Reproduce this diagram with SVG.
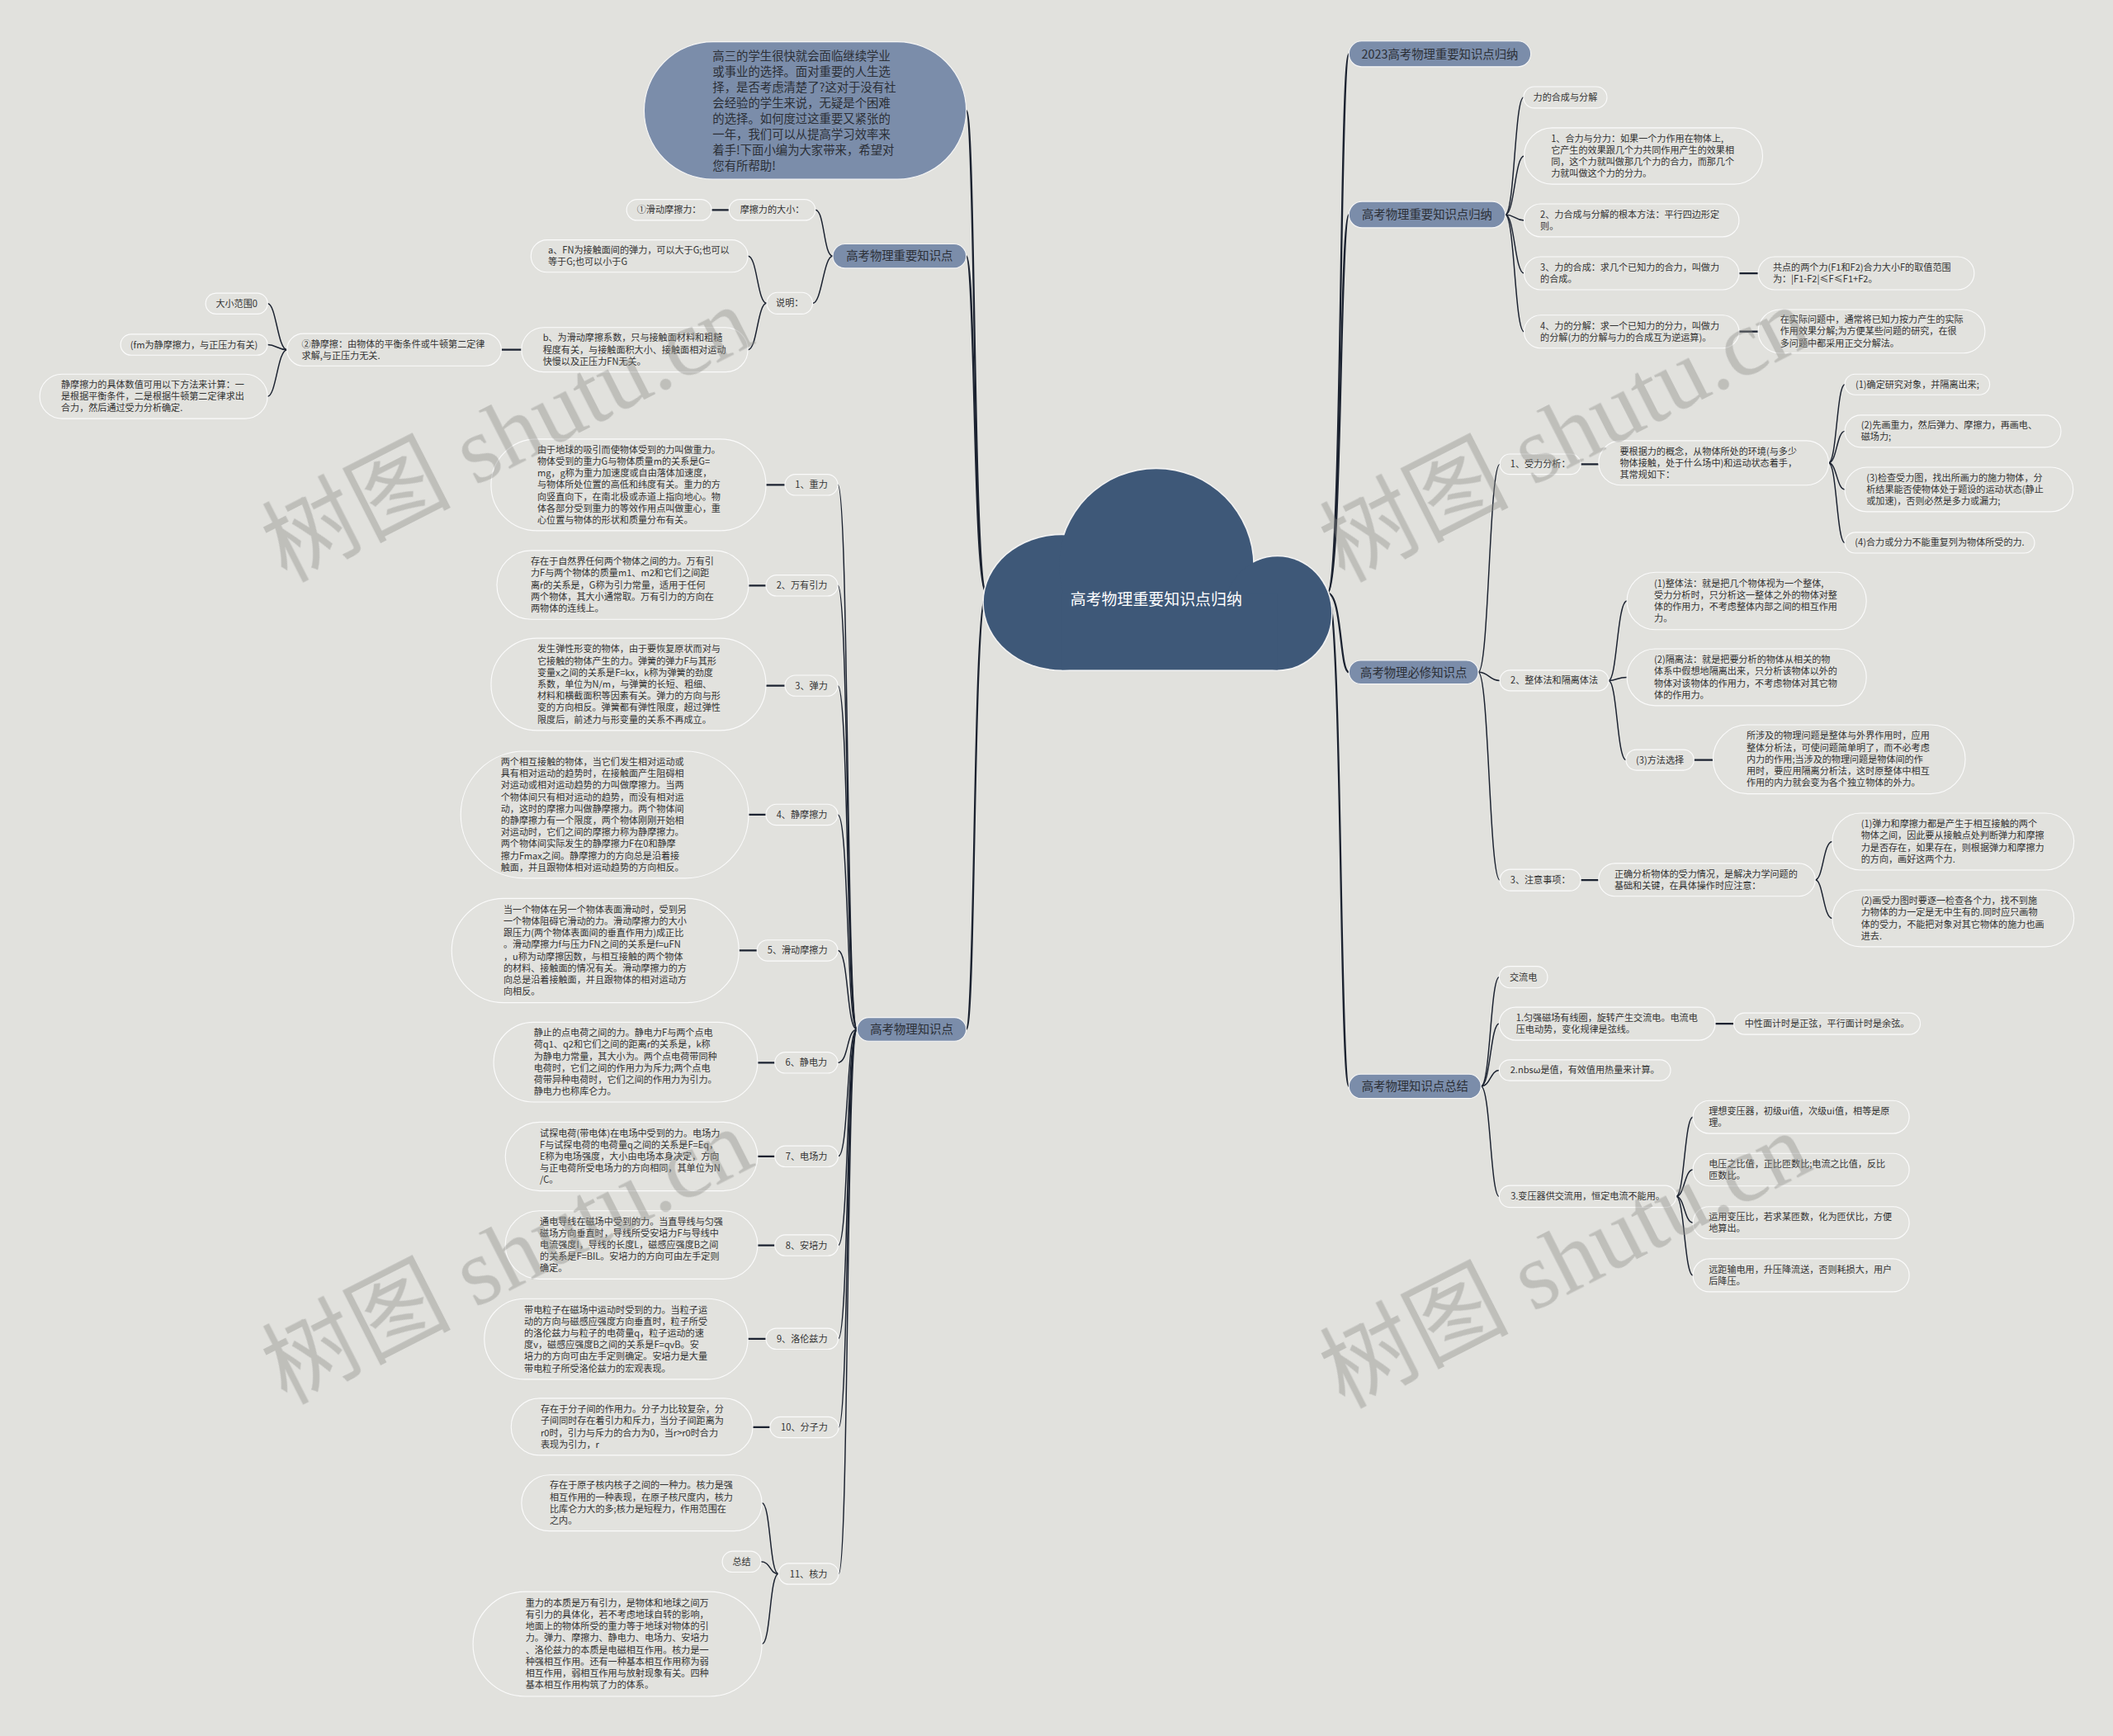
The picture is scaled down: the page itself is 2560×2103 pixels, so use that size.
<svg xmlns="http://www.w3.org/2000/svg" width="2560" height="2103" viewBox="0 0 2560 2103">
<defs>
<style>
.bg{fill:#e1e1dd}
.n{fill:#e2e2de;stroke:#fbfbfb;stroke-width:0.7}
.l1{fill:#7b8daa;stroke:#f5f5f5;stroke-width:0.7}
.c{fill:none;stroke:#1b2230;stroke-width:0.9;stroke-linecap:round}
.ct{stroke-width:1.4}
.cs{stroke-width:1.4}
.t{font-family:"Noto Sans CJK SC","Noto Sans",sans-serif;font-size:6.8px;fill:#333}
.tc{text-anchor:middle}
.t1{font-size:8.8px;fill:#2b2f36}
.tw{font-size:11.6px;fill:#ffffff}
.cl{fill:#3e5878}
.clo{fill:#3e5878;stroke:#f2f2f2;stroke-width:2}
</style>
</defs>
<rect class="bg" x="0" y="0" width="2560" height="2103"/>
<g transform="scale(1.632653)">
<g id="connectors">
<path class="c ct" d="M732 440 C722 440 724 82 717 82"/>
<path class="c ct" d="M732 440 C722 440 724 190 717 190"/>
<path class="c ct" d="M732 440 C722 440 724 763.75 717 763.75"/>
<path class="c ct" d="M985 440 C996 440 994 40 1001 40"/>
<path class="c ct" d="M985 440 C996 440 994 159.25 1001 159.25"/>
<path class="c ct" d="M985 440 C996 440 994 498.75 1001 498.75"/>
<path class="c ct" d="M985 440 C996 440 994 806 1001 806"/>
<path class="c" d="M618 190 C611 190 612 155.75 605 155.75"/>
<path class="c" d="M618 190 C611 190 610 225 603 225"/>
<path class="c cs" d="M541 155.75 L528 155.75"/>
<path class="c" d="M569 225 C562 225 562 190 555 190"/>
<path class="c" d="M569 225 C562 225 562 259.5 555 259.5"/>
<path class="c cs" d="M387 259.5 L372 259.5"/>
<path class="c" d="M213 259.5 C206 259.5 205 225.25 198.6 225.25"/>
<path class="c" d="M213 259.5 C206 259.5 205 255.75 198.5 255.75"/>
<path class="c" d="M213 259.5 C206 259.5 205 294.1 198.5 294.1"/>
<path class="c" d="M636 763.75 C628 763.75 630 359.75 621.7 359.75"/>
<path class="c" d="M636 763.75 C628 763.75 630 434.45 621.7 434.45"/>
<path class="c" d="M636 763.75 C628 763.75 630 508.75 621.7 508.75"/>
<path class="c" d="M636 763.75 C628 763.75 630 604.5 621.7 604.5"/>
<path class="c" d="M636 763.75 C628 763.75 630 705.25 621.7 705.25"/>
<path class="c" d="M636 763.75 C628 763.75 630 788.5 621.7 788.5"/>
<path class="c" d="M636 763.75 C628 763.75 630 858 622 858"/>
<path class="c" d="M636 763.75 C628 763.75 630 924 622 924"/>
<path class="c" d="M636 763.75 C628 763.75 630 993.35 622 993.35"/>
<path class="c" d="M636 763.75 C628 763.75 630 1059 622.3 1059"/>
<path class="c" d="M636 763.75 C628 763.75 630 1167.75 622.3 1167.75"/>
<path class="c cs" d="M568.4 359.75 L582.5 359.75"/>
<path class="c cs" d="M555.5 434.45 L568.4 434.45"/>
<path class="c cs" d="M568.4 508.75 L582.5 508.75"/>
<path class="c cs" d="M555.5 604.5 L568.4 604.5"/>
<path class="c cs" d="M548.3 705.25 L561.8 705.25"/>
<path class="c cs" d="M562.2 788.5 L575 788.5"/>
<path class="c cs" d="M562.2 858 L575 858"/>
<path class="c cs" d="M562.2 924 L575 924"/>
<path class="c cs" d="M555 993.35 L568.4 993.35"/>
<path class="c cs" d="M558.6 1059 L571.4 1059"/>
<path class="c" d="M577.7 1167.75 C571 1167.75 572 1115.2 565.4 1115.2"/>
<path class="c" d="M577.7 1167.75 C571 1167.75 572 1158.75 564.7 1158.75"/>
<path class="c" d="M577.7 1167.75 C571 1167.75 572 1219.85 565.4 1219.85"/>
<path class="c" d="M1117 159.25 C1124 159.25 1124 72.25 1130.6 72.25"/>
<path class="c" d="M1117 159.25 C1124 159.25 1124 115.8 1131 115.8"/>
<path class="c" d="M1117 159.25 C1124 159.25 1124 163.5 1131 163.5"/>
<path class="c" d="M1117 159.25 C1124 159.25 1124 202.75 1131 202.75"/>
<path class="c" d="M1117 159.25 C1124 159.25 1124 246.05 1131 246.05"/>
<path class="c cs" d="M1290.5 202.75 L1304.7 202.75"/>
<path class="c cs" d="M1290.5 246.05 L1304.7 246.05"/>
<path class="c" d="M1097 498.75 C1105 498.75 1105 344.45 1113 344.45"/>
<path class="c" d="M1097 498.75 C1105 498.75 1105 504.95 1113 504.95"/>
<path class="c" d="M1097 498.75 C1105 498.75 1105 653 1113 653"/>
<path class="c cs" d="M1173 344.45 L1186.3 344.45"/>
<path class="c" d="M1357 343.5 C1363 343.5 1363 285.25 1369 285.25"/>
<path class="c" d="M1357 343.5 C1363 343.5 1363 319.95 1369 319.95"/>
<path class="c" d="M1357 343.5 C1363 343.5 1363 363.2 1369 363.2"/>
<path class="c" d="M1357 343.5 C1363 343.5 1363 402.7 1369 402.7"/>
<path class="c" d="M1193.7 504.95 C1200 504.95 1200 445.9 1207.3 445.9"/>
<path class="c" d="M1193.7 504.95 C1200 504.95 1200 502.5 1207.3 502.5"/>
<path class="c" d="M1193.7 504.95 C1200 504.95 1200 563.85 1206.6 563.85"/>
<path class="c cs" d="M1257 563.85 L1271.2 563.85"/>
<path class="c cs" d="M1173 653 L1186.3 653"/>
<path class="c" d="M1347 652.8 C1353 652.8 1353 624.45 1359.7 624.45"/>
<path class="c" d="M1347 652.8 C1353 652.8 1353 681.4 1359.7 681.4"/>
<path class="c" d="M1099 806 C1106 806 1106 725 1112.5 725"/>
<path class="c" d="M1099 806 C1106 806 1106 759.55 1112.5 759.55"/>
<path class="c" d="M1099 806 C1106 806 1106 794.1 1112.5 794.1"/>
<path class="c" d="M1099 806 C1106 806 1106 887.75 1112.5 887.75"/>
<path class="c cs" d="M1272.8 759.55 L1286.6 759.55"/>
<path class="c" d="M1243.8 887.75 C1250 887.75 1250 828.8 1256.3 828.8"/>
<path class="c" d="M1243.8 887.75 C1250 887.75 1250 867.9 1256.3 867.9"/>
<path class="c" d="M1243.8 887.75 C1250 887.75 1250 907.25 1256.3 907.25"/>
<path class="c" d="M1243.8 887.75 C1250 887.75 1250 946.25 1256.3 946.25"/>
</g>

<g id="center">
<ellipse class="clo" cx="788" cy="447" rx="58" ry="50"/>
<circle class="clo" cx="858" cy="420" r="72"/>
<ellipse class="clo" cx="948" cy="455" rx="40" ry="42"/>
<rect class="clo" x="788" y="440" width="160" height="57"/>
<ellipse class="cl" cx="788" cy="447" rx="58" ry="50"/>
<circle class="cl" cx="858" cy="420" r="72"/>
<ellipse class="cl" cx="948" cy="455" rx="40" ry="42"/>
<rect class="cl" x="788" y="440" width="160" height="57"/>
<text class="t tw tc" x="858" y="449">高考物理重要知识点归纳</text>
</g>

<g id="intro">
<rect class="l1" x="478" y="31" width="239" height="102" rx="51"/>
<text class="t t1" x="528.8" y="45"><tspan x="528.8" dy="0">高三的学生很快就会面临继续学业</tspan><tspan x="528.8" dy="11.6">或事业的选择。面对重要的人生选</tspan><tspan x="528.8" dy="11.6">择，是否考虑清楚了?这对于没有社</tspan><tspan x="528.8" dy="11.6">会经验的学生来说，无疑是个困难</tspan><tspan x="528.8" dy="11.6">的选择。如何度过这重要又紧张的</tspan><tspan x="528.8" dy="11.6">一年，我们可以从提高学习效率来</tspan><tspan x="528.8" dy="11.6">着手!下面小编为大家带来，希望对</tspan><tspan x="528.8" dy="11.6">您有所帮助!</tspan></text>
</g>

<g id="L1a"><rect class="l1" x="618" y="181" width="99" height="18" rx="9"/><text class="t t1 tc" x="667.5" y="193.2">高考物理重要知识点</text></g>
<g id="f1"><rect class="n" x="541" y="148" width="64" height="15.5" rx="7.75"/><text class="t tc" x="573" y="158.2">摩擦力的大小：</text></g>
<g id="f2"><rect class="n" x="465" y="148" width="63" height="15.5" rx="7.75"/><text class="t tc" x="496.5" y="158.2">①滑动摩擦力：</text></g>
<g id="f3"><rect class="n" x="569" y="217" width="34" height="16" rx="8"/><text class="t tc" x="586" y="227.45">说明：</text></g>
<g id="f4"><rect class="n" x="394" y="178" width="161" height="24" rx="12"/><text class="t" x="406.7" y="188.1"><tspan x="406.7" dy="0">a、FN为接触面间的弹力，可以大于G;也可以</tspan><tspan x="406.7" dy="8.7">等于G;也可以小于G</tspan></text></g>
<g id="f5"><rect class="n" x="387" y="243" width="168" height="33" rx="16.5"/><text class="t" x="402.8" y="253.25"><tspan x="402.8" dy="0">b、为滑动摩擦系数，只与接触面材料和粗糙</tspan><tspan x="402.8" dy="8.7">程度有关，与接触面积大小、接触面相对运动</tspan><tspan x="402.8" dy="8.7">快慢以及正压力FN无关。</tspan></text></g>
<g id="f6"><rect class="n" x="213" y="247.5" width="159" height="24" rx="12"/><text class="t" x="223.9" y="257.6"><tspan x="223.9" dy="0">②静摩擦：由物体的平衡条件或牛顿第二定律</tspan><tspan x="223.9" dy="8.7">求解,与正压力无关.</tspan></text></g>
<g id="f7"><rect class="n" x="152.6" y="217.5" width="46" height="15.5" rx="7.75"/><text class="t tc" x="175.6" y="227.7">大小范围0</text></g>
<g id="f8"><rect class="n" x="89.5" y="248" width="109" height="15.5" rx="7.75"/><text class="t tc" x="144" y="258.2">(fm为静摩擦力，与正压力有关)</text></g>
<g id="f9"><rect class="n" x="29.5" y="277.6" width="169" height="33" rx="16.5"/><text class="t" x="45.3" y="287.85"><tspan x="45.3" dy="0">静摩擦力的具体数值可用以下方法来计算：一</tspan><tspan x="45.3" dy="8.7">是根据平衡条件，二是根据牛顿第二定律求出</tspan><tspan x="45.3" dy="8.7">合力，然后通过受力分析确定.</tspan></text></g>

<g id="L1b"><rect class="l1" x="636" y="755" width="81" height="17.5" rx="8.75"/><text class="t t1 tc" x="676.5" y="766.9">高考物理知识点</text></g>
<g id="k1"><rect class="n" x="582.5" y="352" width="39.2" height="15.5" rx="7.75"/><text class="t tc" x="602.1" y="362.2">1、重力</text></g>
<g id="g1"><rect class="n" x="364.4" y="325.8" width="204" height="68" rx="34"/><text class="t" x="398.7" y="336.15"><tspan x="398.7" dy="0">由于地球的吸引而使物体受到的力叫做重力。</tspan><tspan x="398.7" dy="8.7">物体受到的重力G与物体质量m的关系是G=</tspan><tspan x="398.7" dy="8.7">mg，g称为重力加速度或自由落体加速度，</tspan><tspan x="398.7" dy="8.7">与物体所处位置的高低和纬度有关。重力的方</tspan><tspan x="398.7" dy="8.7">向竖直向下，在南北极或赤道上指向地心。物</tspan><tspan x="398.7" dy="8.7">体各部分受到重力的等效作用点叫做重心，重</tspan><tspan x="398.7" dy="8.7">心位置与物体的形状和质量分布有关。</tspan></text></g>
<g id="k2"><rect class="n" x="568.4" y="426.7" width="53.3" height="15.5" rx="7.75"/><text class="t tc" x="595.05" y="436.9">2、万有引力</text></g>
<g id="g2"><rect class="n" x="368.7" y="408.5" width="186.8" height="51" rx="25.5"/><text class="t" x="393.8" y="419.05"><tspan x="393.8" dy="0">存在于自然界任何两个物体之间的力。万有引</tspan><tspan x="393.8" dy="8.7">力F与两个物体的质量m1、m2和它们之间距</tspan><tspan x="393.8" dy="8.7">离r的关系是，G称为引力常量，适用于任何</tspan><tspan x="393.8" dy="8.7">两个物体，其大小通常取。万有引力的方向在</tspan><tspan x="393.8" dy="8.7">两物体的连线上。</tspan></text></g>
<g id="k3"><rect class="n" x="582.5" y="501" width="39.2" height="15.5" rx="7.75"/><text class="t tc" x="602.1" y="511.2">3、弹力</text></g>
<g id="g3"><rect class="n" x="364.4" y="473.5" width="204" height="68.5" rx="34.25"/><text class="t" x="398.7" y="484.1"><tspan x="398.7" dy="0">发生弹性形变的物体，由于要恢复原状而对与</tspan><tspan x="398.7" dy="8.7">它接触的物体产生的力。弹簧的弹力F与其形</tspan><tspan x="398.7" dy="8.7">变量x之间的关系是F=kx，k称为弹簧的劲度</tspan><tspan x="398.7" dy="8.7">系数，单位为N/m，与弹簧的长短、粗细、</tspan><tspan x="398.7" dy="8.7">材料和横截面积等因素有关。弹力的方向与形</tspan><tspan x="398.7" dy="8.7">变的方向相反。弹簧都有弹性限度，超过弹性</tspan><tspan x="398.7" dy="8.7">限度后，前述力与形变量的关系不再成立。</tspan></text></g>
<g id="k4"><rect class="n" x="568.4" y="596.75" width="53.3" height="15.5" rx="7.75"/><text class="t tc" x="595.05" y="606.95">4、静摩擦力</text></g>
<g id="g4"><rect class="n" x="341.9" y="557.4" width="213.6" height="94.2" rx="47.1"/><text class="t" x="371.6" y="567.8"><tspan x="371.6" dy="0">两个相互接触的物体，当它们发生相对运动或</tspan><tspan x="371.6" dy="8.7">具有相对运动的趋势时，在接触面产生阻碍相</tspan><tspan x="371.6" dy="8.7">对运动或相对运动趋势的力叫做摩擦力。当两</tspan><tspan x="371.6" dy="8.7">个物体间只有相对运动的趋势，而没有相对运</tspan><tspan x="371.6" dy="8.7">动，这时的摩擦力叫做静摩擦力。两个物体间</tspan><tspan x="371.6" dy="8.7">的静摩擦力有一个限度，两个物体刚刚开始相</tspan><tspan x="371.6" dy="8.7">对运动时，它们之间的摩擦力称为静摩擦力。</tspan><tspan x="371.6" dy="8.7">两个物体间实际发生的静摩擦力F在0和静摩</tspan><tspan x="371.6" dy="8.7">擦力Fmax之间。静摩擦力的方向总是沿着接</tspan><tspan x="371.6" dy="8.7">触面，并且跟物体相对运动趋势的方向相反。</tspan></text></g>
<g id="k5"><rect class="n" x="561.8" y="697.5" width="59.9" height="15.5" rx="7.75"/><text class="t tc" x="591.75" y="707.7">5、滑动摩擦力</text></g>
<g id="g5"><rect class="n" x="335.2" y="666.6" width="213.1" height="77.4" rx="38.7"/><text class="t" x="373.6" y="677.3"><tspan x="373.6" dy="0">当一个物体在另一个物体表面滑动时，受到另</tspan><tspan x="373.6" dy="8.7">一个物体阻碍它滑动的力。滑动摩擦力的大小</tspan><tspan x="373.6" dy="8.7">跟压力(两个物体表面间的垂直作用力)成正比</tspan><tspan x="373.6" dy="8.7">。滑动摩擦力f与压力FN之间的关系是f=uFN</tspan><tspan x="373.6" dy="8.7">，u称为动摩擦因数，与相互接触的两个物体</tspan><tspan x="373.6" dy="8.7">的材料、接触面的情况有关。滑动摩擦力的方</tspan><tspan x="373.6" dy="8.7">向总是沿着接触面，并且跟物体的相对运动方</tspan><tspan x="373.6" dy="8.7">向相反。</tspan></text></g>
<g id="k6"><rect class="n" x="575" y="780.75" width="46.7" height="15.5" rx="7.75"/><text class="t tc" x="598.35" y="790.95">6、静电力</text></g>
<g id="g6"><rect class="n" x="366.3" y="758.5" width="195.9" height="59.2" rx="29.6"/><text class="t" x="396.1" y="768.8"><tspan x="396.1" dy="0">静止的点电荷之间的力。静电力F与两个点电</tspan><tspan x="396.1" dy="8.7">荷q1、q2和它们之间的距离r的关系是，k称</tspan><tspan x="396.1" dy="8.7">为静电力常量，其大小为。两个点电荷带同种</tspan><tspan x="396.1" dy="8.7">电荷时，它们之间的作用力为斥力;两个点电</tspan><tspan x="396.1" dy="8.7">荷带异种电荷时，它们之间的作用力为引力。</tspan><tspan x="396.1" dy="8.7">静电力也称库仑力。</tspan></text></g>
<g id="k7"><rect class="n" x="575" y="850.25" width="47" height="15.5" rx="7.75"/><text class="t tc" x="598.5" y="860.45">7、电场力</text></g>
<g id="g7"><rect class="n" x="375" y="832.6" width="187.2" height="51" rx="25.5"/><text class="t" x="400.6" y="843.15"><tspan x="400.6" dy="0">试探电荷(带电体)在电场中受到的力。电场力</tspan><tspan x="400.6" dy="8.7">F与试探电荷的电荷量q之间的关系是F=Eq，</tspan><tspan x="400.6" dy="8.7">E称为电场强度，大小由电场本身决定，方向</tspan><tspan x="400.6" dy="8.7">与正电荷所受电场力的方向相同，其单位为N</tspan><tspan x="400.6" dy="8.7">/C。</tspan></text></g>
<g id="k8"><rect class="n" x="575" y="916.25" width="47" height="15.5" rx="7.75"/><text class="t tc" x="598.5" y="926.45">8、安培力</text></g>
<g id="g8"><rect class="n" x="375" y="898.4" width="187.2" height="50.6" rx="25.3"/><text class="t" x="400.6" y="908.75"><tspan x="400.6" dy="0">通电导线在磁场中受到的力。当直导线与匀强</tspan><tspan x="400.6" dy="8.7">磁场方向垂直时，导线所受安培力F与导线中</tspan><tspan x="400.6" dy="8.7">电流强度I，导线的长度L，磁感应强度B之间</tspan><tspan x="400.6" dy="8.7">的关系是F=BIL。安培力的方向可由左手定则</tspan><tspan x="400.6" dy="8.7">确定。</tspan></text></g>
<g id="k9"><rect class="n" x="568.4" y="985.6" width="53.6" height="15.5" rx="7.75"/><text class="t tc" x="595.2" y="995.8">9、洛伦兹力</text></g>
<g id="g9"><rect class="n" x="359.4" y="963.6" width="195.6" height="59.8" rx="29.9"/><text class="t" x="389" y="974.2"><tspan x="389" dy="0">带电粒子在磁场中运动时受到的力。当粒子运</tspan><tspan x="389" dy="8.7">动的方向与磁感应强度方向垂直时，粒子所受</tspan><tspan x="389" dy="8.7">的洛伦兹力与粒子的电荷量q，粒子运动的速</tspan><tspan x="389" dy="8.7">度v，磁感应强度B之间的关系是F=qvB。安</tspan><tspan x="389" dy="8.7">培力的方向可由左手定则确定。安培力是大量</tspan><tspan x="389" dy="8.7">带电粒子所受洛伦兹力的宏观表现。</tspan></text></g>
<g id="k10"><rect class="n" x="571.4" y="1051.25" width="50.9" height="15.5" rx="7.75"/><text class="t tc" x="596.85" y="1061.45">10、分子力</text></g>
<g id="g10"><rect class="n" x="379.3" y="1037.5" width="179.3" height="42.3" rx="21.15"/><text class="t" x="401.2" y="1048.05"><tspan x="401.2" dy="0">存在于分子间的作用力。分子力比较复杂，分</tspan><tspan x="401.2" dy="8.7">子间同时存在着引力和斥力，当分子间距离为</tspan><tspan x="401.2" dy="8.7">r0时，引力与斥力的合力为0，当r&gt;r0时合力</tspan><tspan x="401.2" dy="8.7">表现为引力，r</tspan></text></g>
<g id="k11"><rect class="n" x="577.7" y="1160" width="44.6" height="15.5" rx="7.75"/><text class="t tc" x="600" y="1170.2">11、核力</text></g>
<g id="g11a"><rect class="n" x="387" y="1094.4" width="178.4" height="41.6" rx="20.8"/><text class="t" x="407.9" y="1104.6"><tspan x="407.9" dy="0">存在于原子核内核子之间的一种力。核力是强</tspan><tspan x="407.9" dy="8.7">相互作用的一种表现，在原子核尺度内，核力</tspan><tspan x="407.9" dy="8.7">比库仑力大的多;核力是短程力，作用范围在</tspan><tspan x="407.9" dy="8.7">之内。</tspan></text></g>
<g id="g11b"><rect class="n" x="536" y="1151" width="28.7" height="15.5" rx="7.75"/><text class="t tc" x="550.35" y="1161.2">总结</text></g>
<g id="g11c"><rect class="n" x="351" y="1181" width="214.4" height="77.7" rx="38.85"/><text class="t" x="390" y="1191.85"><tspan x="390" dy="0">重力的本质是万有引力，是物体和地球之间万</tspan><tspan x="390" dy="8.7">有引力的具体化，若不考虑地球自转的影响，</tspan><tspan x="390" dy="8.7">地面上的物体所受的重力等于地球对物体的引</tspan><tspan x="390" dy="8.7">力。弹力、摩擦力、静电力、电场力、安培力</tspan><tspan x="390" dy="8.7">、洛伦兹力的本质是电磁相互作用。核力是一</tspan><tspan x="390" dy="8.7">种强相互作用。还有一种基本相互作用称为弱</tspan><tspan x="390" dy="8.7">相互作用，弱相互作用与放射现象有关。四种</tspan><tspan x="390" dy="8.7">基本相互作用构筑了力的体系。</tspan></text></g>

<g id="R1"><rect class="l1" x="1001" y="30.5" width="135" height="19" rx="9.5"/><text class="t t1 tc" x="1068.5" y="43.2">2023高考物理重要知识点归纳</text></g>
<g id="R2"><rect class="l1" x="1001" y="149.5" width="116" height="19.5" rx="9.75"/><text class="t t1 tc" x="1059" y="162.45">高考物理重要知识点归纳</text></g>
<g id="r2a"><rect class="n" x="1130.6" y="64.3" width="61.9" height="15.9" rx="7.95"/><text class="t tc" x="1161.55" y="74.7">力的合成与分解</text></g>
<g id="r2b"><rect class="n" x="1131" y="94.9" width="177" height="41.8" rx="20.9"/><text class="t" x="1151" y="105.2"><tspan x="1151" dy="0">1、合力与分力：如果一个力作用在物体上,</tspan><tspan x="1151" dy="8.7">它产生的效果跟几个力共同作用产生的效果相</tspan><tspan x="1151" dy="8.7">同，这个力就叫做那几个力的合力，而那几个</tspan><tspan x="1151" dy="8.7">力就叫做这个力的分力。</tspan></text></g>
<g id="r2c"><rect class="n" x="1131" y="151.3" width="159.5" height="24.4" rx="12.2"/><text class="t" x="1143" y="161.6"><tspan x="1143" dy="0">2、力合成与分解的根本方法：平行四边形定</tspan><tspan x="1143" dy="8.7">则。</tspan></text></g>
<g id="r2d"><rect class="n" x="1131" y="190.5" width="159.5" height="24.5" rx="12.25"/><text class="t" x="1143" y="200.85"><tspan x="1143" dy="0">3、力的合成：求几个已知力的合力，叫做力</tspan><tspan x="1143" dy="8.7">的合成。</tspan></text></g>
<g id="r2e"><rect class="n" x="1304.7" y="190.5" width="160.3" height="24.5" rx="12.25"/><text class="t" x="1315.6" y="200.85"><tspan x="1315.6" dy="0">共点的两个力(F1和F2)合力大小F的取值范围</tspan><tspan x="1315.6" dy="8.7">为：|F1-F2|≤F≤F1+F2。</tspan></text></g>
<g id="r2f"><rect class="n" x="1131" y="233.8" width="159.5" height="24.5" rx="12.25"/><text class="t" x="1143" y="244.15"><tspan x="1143" dy="0">4、力的分解：求一个已知力的分力，叫做力</tspan><tspan x="1143" dy="8.7">的分解(力的分解与力的合成互为逆运算)。</tspan></text></g>
<g id="r2g"><rect class="n" x="1304.7" y="229.7" width="168.3" height="32.3" rx="16.15"/><text class="t" x="1321" y="239.6"><tspan x="1321" dy="0">在实际问题中，通常将已知力按力产生的实际</tspan><tspan x="1321" dy="8.7">作用效果分解;为方便某些问题的研究，在很</tspan><tspan x="1321" dy="8.7">多问题中都采用正交分解法。</tspan></text></g>

<g id="R3"><rect class="l1" x="1001" y="490" width="96" height="17.5" rx="8.75"/><text class="t t1 tc" x="1049" y="501.95">高考物理必修知识点</text></g>
<g id="r3a"><rect class="n" x="1113" y="336.9" width="60" height="15.1" rx="7.55"/><text class="t tc" x="1143" y="346.9">1、受力分析：</text></g>
<g id="r3b"><rect class="n" x="1186.3" y="327" width="170.7" height="33" rx="16.5"/><text class="t" x="1202" y="337.25"><tspan x="1202" dy="0">要根据力的概念，从物体所处的环境(与多少</tspan><tspan x="1202" dy="8.7">物体接触，处于什么场中)和运动状态着手，</tspan><tspan x="1202" dy="8.7">其常规如下：</tspan></text></g>
<g id="r3c"><rect class="n" x="1369" y="277.6" width="107.5" height="15.3" rx="7.65"/><text class="t tc" x="1422.75" y="287.7">(1)确定研究对象，并隔离出来;</text></g>
<g id="r3d"><rect class="n" x="1369" y="308" width="160.4" height="23.9" rx="11.95"/><text class="t" x="1381" y="318.05"><tspan x="1381" dy="0">(2)先画重力，然后弹力、摩擦力，再画电、</tspan><tspan x="1381" dy="8.7">磁场力;</tspan></text></g>
<g id="r3e"><rect class="n" x="1369" y="346.7" width="169.4" height="33" rx="16.5"/><text class="t" x="1385" y="356.95"><tspan x="1385" dy="0">(3)检查受力图，找出所画力的施力物体，分</tspan><tspan x="1385" dy="8.7">析结果能否使物体处于题设的运动状态(静止</tspan><tspan x="1385" dy="8.7">或加速)，否则必然是多力或漏力;</tspan></text></g>
<g id="r3f"><rect class="n" x="1369" y="395" width="140.8" height="15.4" rx="7.7"/><text class="t tc" x="1439.4" y="405.15">(4)合力或分力不能重复列为物体所受的力.</text></g>
<g id="r3g"><rect class="n" x="1113" y="497.3" width="80.7" height="15.3" rx="7.65"/><text class="t tc" x="1153.35" y="507.4">2、整体法和隔离体法</text></g>
<g id="r3h"><rect class="n" x="1207.3" y="424.6" width="177.7" height="42.6" rx="21.3"/><text class="t" x="1227.5" y="435.3"><tspan x="1227.5" dy="0">(1)整体法：就是把几个物体视为一个整体,</tspan><tspan x="1227.5" dy="8.7">受力分析时，只分析这一整体之外的物体对整</tspan><tspan x="1227.5" dy="8.7">体的作用力，不考虑整体内部之间的相互作用</tspan><tspan x="1227.5" dy="8.7">力。</tspan></text></g>
<g id="r3i"><rect class="n" x="1207.3" y="481.4" width="177.7" height="42.2" rx="21.1"/><text class="t" x="1227.5" y="491.9"><tspan x="1227.5" dy="0">(2)隔离法：就是把要分析的物体从相关的物</tspan><tspan x="1227.5" dy="8.7">体系中假想地隔离出来，只分析该物体以外的</tspan><tspan x="1227.5" dy="8.7">物体对该物体的作用力，不考虑物体对其它物</tspan><tspan x="1227.5" dy="8.7">体的作用力。</tspan></text></g>
<g id="r3j"><rect class="n" x="1206.6" y="556.2" width="50.4" height="15.3" rx="7.65"/><text class="t tc" x="1231.8" y="566.3">(3)方法选择</text></g>
<g id="r3k"><rect class="n" x="1271.2" y="537.8" width="187.2" height="51.2" rx="25.6"/><text class="t" x="1296" y="548.45"><tspan x="1296" dy="0">所涉及的物理问题是整体与外界作用时，应用</tspan><tspan x="1296" dy="8.7">整体分析法，可使问题简单明了，而不必考虑</tspan><tspan x="1296" dy="8.7">内力的作用;当涉及的物理问题是物体间的作</tspan><tspan x="1296" dy="8.7">用时，要应用隔离分析法，这时原整体中相互</tspan><tspan x="1296" dy="8.7">作用的内力就会变为各个独立物体的外力。</tspan></text></g>
<g id="r3l"><rect class="n" x="1113" y="645" width="60" height="16" rx="8"/><text class="t tc" x="1143" y="655.45">3、注意事项：</text></g>
<g id="r3m"><rect class="n" x="1186.3" y="640.6" width="160.7" height="24.4" rx="12.2"/><text class="t" x="1198" y="650.9"><tspan x="1198" dy="0">正确分析物体的受力情况，是解决力学问题的</tspan><tspan x="1198" dy="8.7">基础和关键，在具体操作时应注意：</tspan></text></g>
<g id="r3n"><rect class="n" x="1359.7" y="603.3" width="179.3" height="42.3" rx="21.15"/><text class="t" x="1381" y="613.85"><tspan x="1381" dy="0">(1)弹力和摩擦力都是产生于相互接触的两个</tspan><tspan x="1381" dy="8.7">物体之间，因此要从接触点处判断弹力和摩擦</tspan><tspan x="1381" dy="8.7">力是否存在，如果存在，则根据弹力和摩擦力</tspan><tspan x="1381" dy="8.7">的方向，画好这两个力.</tspan></text></g>
<g id="r3o"><rect class="n" x="1359.7" y="660.3" width="179.3" height="42.2" rx="21.1"/><text class="t" x="1381" y="670.8"><tspan x="1381" dy="0">(2)画受力图时要逐一检查各个力，找不到施</tspan><tspan x="1381" dy="8.7">力物体的力一定是无中生有的.同时应只画物</tspan><tspan x="1381" dy="8.7">体的受力，不能把对象对其它物体的施力也画</tspan><tspan x="1381" dy="8.7">进去.</tspan></text></g>

<g id="R4"><rect class="l1" x="1001" y="797" width="98" height="18" rx="9"/><text class="t t1 tc" x="1050" y="809.2">高考物理知识点总结</text></g>
<g id="r4a"><rect class="n" x="1112.5" y="717" width="35.9" height="16" rx="8"/><text class="t tc" x="1130.45" y="727.45">交流电</text></g>
<g id="r4b"><rect class="n" x="1112.5" y="747.3" width="160.3" height="24.5" rx="12.25"/><text class="t" x="1125" y="757.65"><tspan x="1125" dy="0">1.匀强磁场有线圈，旋转产生交流电。电流电</tspan><tspan x="1125" dy="8.7">压电动势，变化规律是弦线。</tspan></text></g>
<g id="r4c"><rect class="n" x="1286.6" y="751.6" width="138.4" height="15.9" rx="7.95"/><text class="t tc" x="1355.8" y="762">中性面计时是正弦，平行面计时是余弦。</text></g>
<g id="r4d"><rect class="n" x="1112.5" y="786.4" width="127.2" height="15.4" rx="7.7"/><text class="t tc" x="1176.1" y="796.55">2.nbsω是值，有效值用热量来计算。</text></g>
<g id="r4e"><rect class="n" x="1112.5" y="879.6" width="131.3" height="16.3" rx="8.15"/><text class="t tc" x="1178.15" y="890.2">3.变压器供交流用，恒定电流不能用。</text></g>
<g id="r4f"><rect class="n" x="1256.3" y="816.6" width="160.5" height="24.4" rx="12.2"/><text class="t" x="1268" y="826.9"><tspan x="1268" dy="0">理想变压器，初级ui值，次级ui值，相等是原</tspan><tspan x="1268" dy="8.7">理。</tspan></text></g>
<g id="r4g"><rect class="n" x="1256.3" y="855.8" width="160.5" height="24.2" rx="12.1"/><text class="t" x="1268" y="866"><tspan x="1268" dy="0">电压之比值，正比匝数比;电流之比值，反比</tspan><tspan x="1268" dy="8.7">匝数比。</tspan></text></g>
<g id="r4h"><rect class="n" x="1256.3" y="895.3" width="160.5" height="23.9" rx="11.95"/><text class="t" x="1268" y="905.35"><tspan x="1268" dy="0">运用变压比，若求某匝数，化为匝伏比，方便</tspan><tspan x="1268" dy="8.7">地算出。</tspan></text></g>
<g id="r4i"><rect class="n" x="1256.3" y="934" width="160.5" height="24.5" rx="12.25"/><text class="t" x="1268" y="944.35"><tspan x="1268" dy="0">远距输电用，升压降流送，否则耗损大，用户</tspan><tspan x="1268" dy="8.7">后降压。</tspan></text></g>

<g id="watermarks" fill="#8c8c88" opacity="0.4" font-family="'Liberation Serif','Noto Sans CJK SC',serif" font-size="70">
<text transform="translate(212,432) rotate(-27)">树图 shutu.cn</text>
<text transform="translate(212,1042) rotate(-27)">树图 shutu.cn</text>
<text transform="translate(997,432) rotate(-27)">树图 shutu.cn</text>
<text transform="translate(997,1045) rotate(-27)">树图 shutu.cn</text>
</g>
</g>
</svg>
